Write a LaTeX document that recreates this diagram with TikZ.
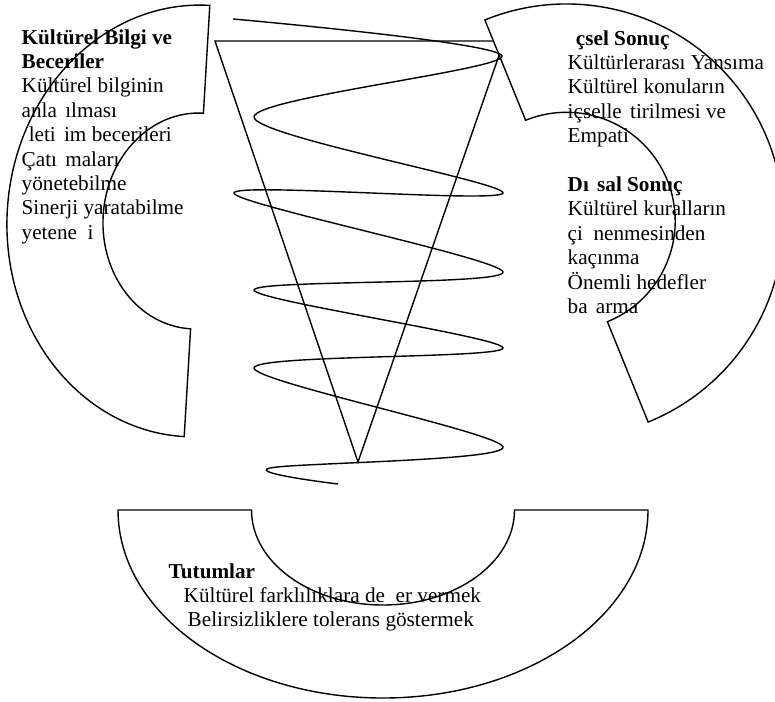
\documentclass[tikz,border=0pt]{standalone}
\usepackage{fontspec}
\setmainfont{Liberation Serif}
\usetikzlibrary{calc}

\begin{document}
\begin{tikzpicture}[x=1pt, y=-1pt, line width=1.4pt,
  blockarc/.style={draw, fill=white},
  txt/.style={anchor=base west, inner sep=0pt, align=left, font=\fontsize{21.2}{24.4}\selectfont}]
  % page
  \useasboundingbox (0,0) rectangle (775,701);
  \clip (0,0) rectangle (775,701);
  % funnel
  \coordinate (tl) at (215,41);
  \coordinate (tr) at (504,41);
  \coordinate (tip) at (358,462);
  \draw (tl) -- (tr) -- (tip) -- cycle;
  % left block arc
  \draw[blockarc, rotate around={-3.4:(197,221)}] (197,5) arc[start angle=270, end angle=90, x radius=190, y radius=216]
    -- (197,329) arc[start angle=90, end angle=270, x radius=94, y radius=108] -- cycle;
  % right block arc
  \coordinate (rc) at (566.5,221);
  \draw[blockarc] ($(rc)+(247.9:217)$) arc[start angle=247.9, end angle=427.9, radius=217]
    -- ($(rc)+(67.9:108.7)$) arc[start angle=67.9, end angle=-112.1, radius=108.7] -- cycle;
  % bottom block arc
  \coordinate (bc) at (383,510);
  \draw[blockarc] ($(bc)+(-265,0)$) arc[start angle=180, end angle=0, x radius=265, y radius=188]
    -- ($(bc)+(131.5,0)$) arc[start angle=0, end angle=180, x radius=131.5, y radius=95] -- cycle;
  % spiral
  \draw plot[smooth, tension=0.5] coordinates {(233,19) (502,56) (254,117) (503,193) (234,193) (503,272)
    (254,290) (503,348) (254,368) (503,447) (270,468) (338,484)};
  % texts (base = last line)
  \node[txt] (bilgi) at (21,239.2) {\textbf{Kültürel Bilgi ve}\\ \textbf{Beceriler}\\ Kültürel bilginin\\
    anla\phantom{ş}ılması\\ \phantom{İ}leti\phantom{ş}im becerileri\\ Çatı\phantom{ş}maları\\ yönetebilme\\
    Sinerji yaratabilme\\ yetene\phantom{ğ}i};
  \node[txt] (sonuc) at (567,313.4) {\textbf{\phantom{İ}çsel Sonuç}\\ Kültürlerarası Yansıma\\ Kültürel konuların\\
    içselle\phantom{ş}tirilmesi ve\\ Empati\\[24.4pt] \textbf{Dı\phantom{ş}sal Sonuç}\\ Kültürel kuralların\\
    çi\phantom{ğ}nenmesinden\\ kaçınma\\ Önemli hedefler\\ ba\phantom{ş}arma};
  \node[txt] (tutum) at (168,626.8) {\textbf{Tutumlar}\\ \hspace*{15pt}Kültürel farklılıklara de\phantom{ğ}er vermek\\
    \hspace*{19pt}Belirsizliklere tolerans göstermek};
\end{tikzpicture}
\end{document}
